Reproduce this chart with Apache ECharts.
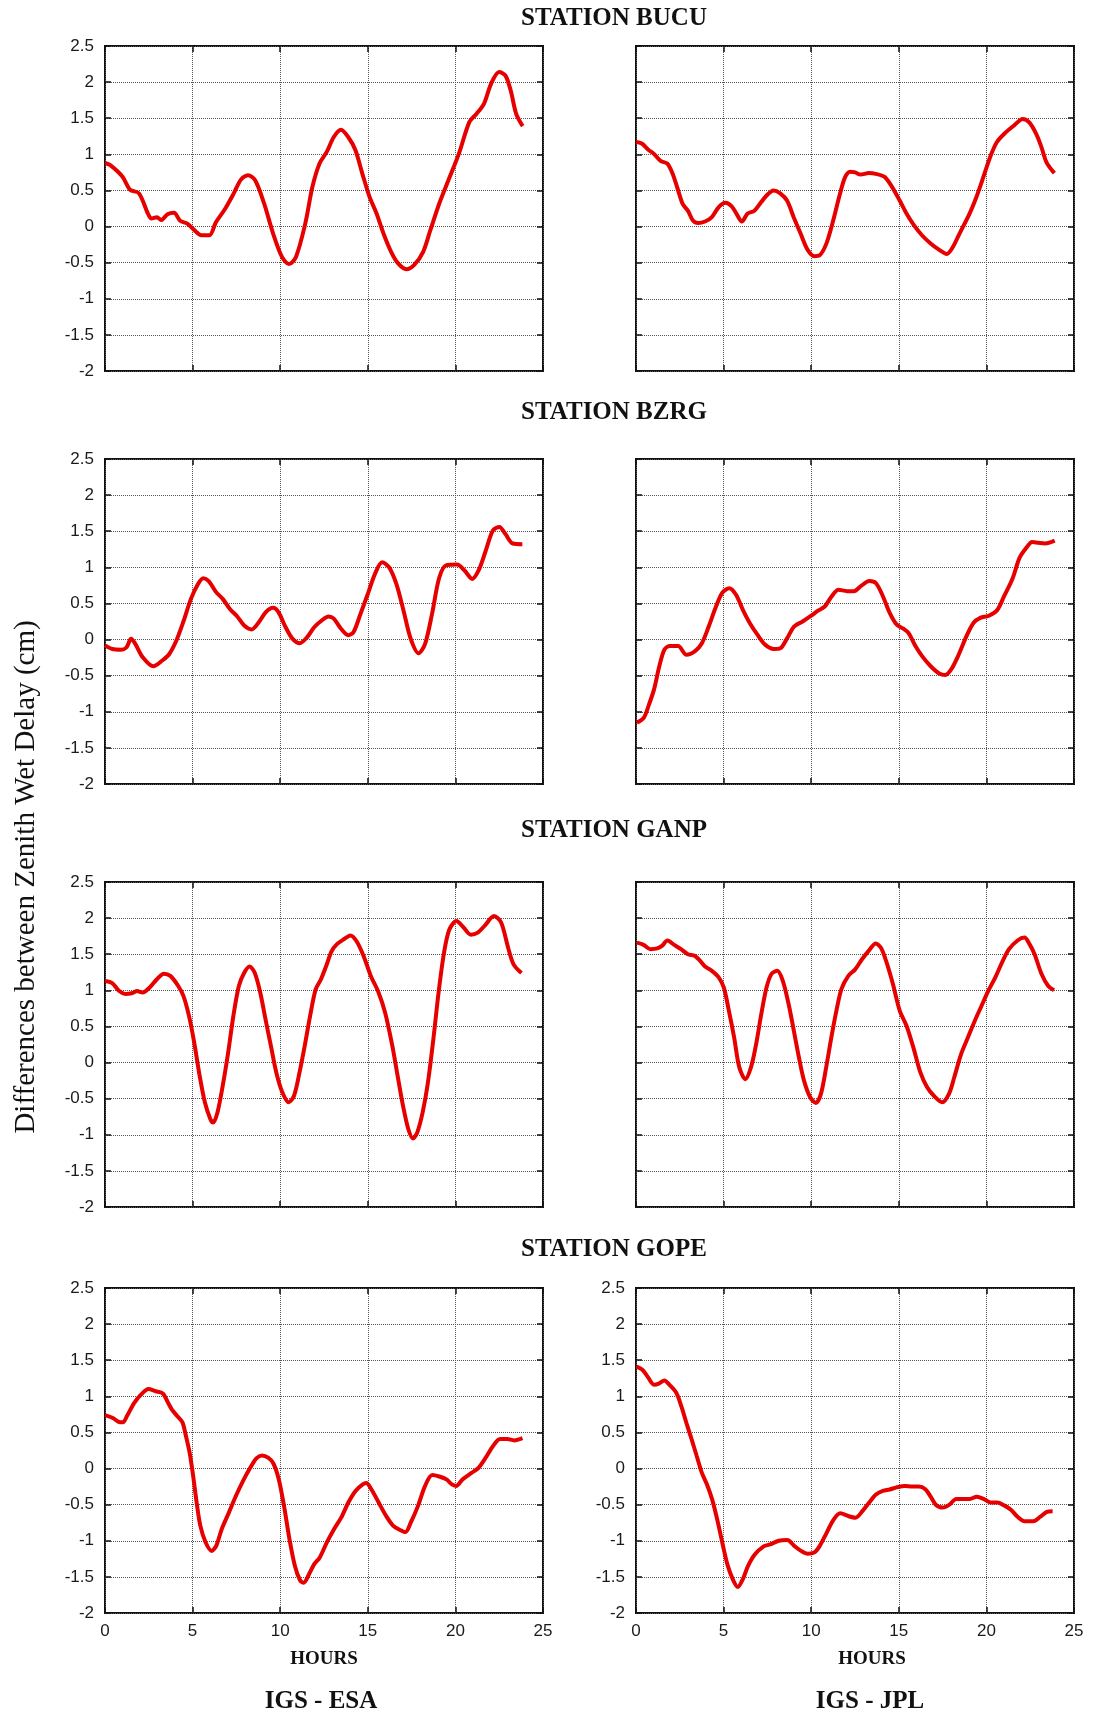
<!DOCTYPE html>
<html>
<head>
<meta charset="utf-8">
<title>Differences between Zenith Wet Delay</title>
<script src="https://cdn.jsdelivr.net/npm/echarts@6/dist/echarts.min.js"></script>
<style>
  html, body { margin: 0; padding: 0; background: #fff; }
  #main { width: 1095px; height: 1716px; }
</style>
</head>
<body>
<div id="main"></div>
<script>
// station rows, solution columns
const stations = ['BUCU', 'BZRG', 'GANP', 'GOPE'];
const solutions = ['IGS - ESA', 'IGS - JPL'];
const yAxisName = 'Differences between Zenith Wet Delay (cm)';
const xAxisName = 'HOURS';

// BUCU
const bucuEsaHours = [0,0.3,1.0,1.43,1.94,2.45,2.65,2.96,3.2,3.57,3.94,4.29,4.7,5.1,5.5,5.96,6.33,6.84,7.35,7.76,8.16,8.57,9.08,9.6,10.1,10.5,10.9,11.43,11.84,12.24,12.65,13.06,13.47,13.88,14.29,14.69,15.1,15.5,15.9,16.33,16.73,17.2,17.65,18.16,18.57,19.08,19.6,20.2,20.8,21.2,21.63,22.04,22.5,22.86,23.16,23.47,23.84];
const bucuEsaZwd = [0.88,0.85,0.69,0.51,0.46,0.18,0.11,0.13,0.09,0.17,0.19,0.08,0.04,-0.05,-0.12,-0.12,0.06,0.24,0.46,0.65,0.71,0.64,0.32,-0.1,-0.42,-0.52,-0.42,0.04,0.55,0.87,1.03,1.24,1.34,1.24,1.06,0.73,0.41,0.18,-0.1,-0.35,-0.51,-0.59,-0.53,-0.35,-0.05,0.32,0.64,1.01,1.45,1.56,1.70,1.98,2.14,2.09,1.88,1.56,1.39];
const bucuJplHours = [0,0.33,0.72,1.01,1.4,1.79,2.09,2.38,2.67,2.96,3.26,3.55,3.94,4.33,4.72,5.11,5.46,5.73,6.04,6.37,6.76,7.15,7.54,7.84,8.23,8.62,9.0,9.4,9.79,10.18,10.47,10.86,11.25,11.64,11.93,12.22,12.51,12.81,13.29,13.68,14.17,14.56,15.05,15.44,15.83,16.32,16.8,17.29,17.74,18.07,18.46,19.04,19.43,19.82,20.21,20.6,21.09,21.58,22.07,22.46,22.85,23.14,23.43,23.88];
const bucuJplZwd = [1.17,1.15,1.06,1.01,0.91,0.87,0.73,0.52,0.31,0.22,0.08,0.05,0.07,0.13,0.27,0.33,0.28,0.18,0.07,0.18,0.22,0.34,0.45,0.50,0.46,0.36,0.13,-0.1,-0.32,-0.41,-0.4,-0.24,0.08,0.45,0.68,0.76,0.75,0.72,0.74,0.73,0.69,0.57,0.36,0.18,0.03,-0.12,-0.23,-0.32,-0.38,-0.29,-0.1,0.18,0.41,0.68,0.96,1.17,1.3,1.4,1.49,1.44,1.28,1.10,0.89,0.74];

// BZRG
const bzrgEsaHours = [0,0.41,0.92,1.22,1.49,1.73,2.14,2.76,3.27,3.67,4.08,4.49,4.9,5.31,5.61,5.92,6.33,6.73,7.14,7.55,7.96,8.37,8.78,9.18,9.59,9.9,10.31,10.71,11.12,11.53,11.94,12.35,12.76,13.06,13.47,13.88,14.18,14.59,15.0,15.41,15.82,16.22,16.63,17.04,17.45,17.9,18.27,18.67,19.08,19.49,20.1,20.51,20.96,21.33,21.73,22.14,22.51,22.86,23.27,23.82];
const bzrgEsaZwd = [-0.08,-0.13,-0.14,-0.11,0.01,-0.06,-0.24,-0.37,-0.29,-0.2,-0.01,0.26,0.56,0.77,0.85,0.81,0.66,0.56,0.42,0.32,0.19,0.14,0.24,0.38,0.44,0.38,0.17,0.01,-0.05,0.03,0.17,0.26,0.32,0.29,0.15,0.06,0.1,0.36,0.63,0.91,1.07,1.0,0.77,0.4,0.01,-0.19,-0.06,0.36,0.86,1.03,1.04,0.96,0.84,0.96,1.23,1.51,1.56,1.46,1.33,1.32];
const bzrgJplHours = [0.05,0.45,0.74,1.03,1.33,1.62,1.91,2.4,2.88,3.37,3.76,4.15,4.54,4.93,5.32,5.71,6.1,6.49,6.98,7.37,7.85,8.24,8.63,9.02,9.51,10.0,10.39,10.78,11.17,11.56,12.05,12.44,12.83,13.31,13.7,14.09,14.48,14.87,15.26,15.56,15.95,16.33,16.82,17.31,17.66,18.0,18.38,18.87,19.26,19.65,20.14,20.62,21.01,21.5,21.89,22.28,22.61,22.96,23.35,23.9];
const bzrgJplZwd = [-1.15,-1.08,-0.9,-0.69,-0.37,-0.14,-0.09,-0.09,-0.21,-0.16,-0.05,0.18,0.44,0.65,0.71,0.62,0.41,0.23,0.05,-0.07,-0.13,-0.12,0.02,0.18,0.25,0.33,0.4,0.46,0.6,0.69,0.67,0.67,0.74,0.81,0.78,0.6,0.37,0.21,0.15,0.09,-0.09,-0.23,-0.37,-0.47,-0.49,-0.41,-0.23,0.05,0.23,0.3,0.33,0.41,0.6,0.85,1.13,1.27,1.35,1.34,1.33,1.37];

// GANP
const ganpEsaHours = [0,0.41,0.81,1.16,1.53,1.83,2.14,2.55,2.95,3.36,3.73,4.18,4.48,4.79,5.09,5.4,5.7,6.01,6.17,6.42,6.72,7.03,7.33,7.64,7.94,8.25,8.55,8.86,9.16,9.47,9.78,10.12,10.49,10.79,11.1,11.4,11.71,12.02,12.32,12.63,12.93,13.24,13.65,14.01,14.36,14.77,15.17,15.58,15.99,16.4,16.7,17.01,17.31,17.58,17.82,18.13,18.43,18.74,19.04,19.35,19.65,20.06,20.47,20.88,21.28,21.69,22.2,22.61,23.01,23.32,23.77];
const ganpEsaZwd = [1.13,1.1,0.99,0.95,0.96,0.99,0.97,1.04,1.15,1.23,1.2,1.06,0.92,0.65,0.28,-0.18,-0.55,-0.78,-0.83,-0.69,-0.32,0.14,0.65,1.06,1.24,1.33,1.24,0.97,0.6,0.23,-0.14,-0.41,-0.55,-0.46,-0.14,0.23,0.65,1.01,1.15,1.34,1.54,1.64,1.71,1.76,1.68,1.47,1.2,0.99,0.69,0.23,-0.18,-0.6,-0.92,-1.05,-0.97,-0.69,-0.28,0.32,0.97,1.52,1.84,1.96,1.87,1.77,1.8,1.9,2.03,1.94,1.59,1.36,1.24];
const ganpJplHours = [0.05,0.43,0.82,1.21,1.5,1.79,2.18,2.57,2.96,3.35,3.65,3.94,4.33,4.72,5.01,5.3,5.6,5.89,6.24,6.57,6.86,7.15,7.45,7.74,8.07,8.38,8.71,9.01,9.3,9.59,9.94,10.27,10.56,10.86,11.15,11.44,11.73,12.12,12.51,12.9,13.29,13.68,13.98,14.27,14.66,15.05,15.44,15.83,16.22,16.61,17.0,17.48,17.87,18.17,18.56,18.95,19.34,19.73,20.12,20.51,20.9,21.29,21.78,22.17,22.46,22.75,23.14,23.53,23.86];
const ganpJplZwd = [1.66,1.63,1.57,1.58,1.62,1.69,1.63,1.57,1.5,1.48,1.41,1.33,1.27,1.18,1.04,0.72,0.35,-0.06,-0.23,-0.06,0.26,0.67,1.04,1.23,1.27,1.13,0.81,0.44,0.07,-0.25,-0.48,-0.56,-0.43,-0.06,0.35,0.72,1.02,1.2,1.29,1.43,1.55,1.65,1.59,1.41,1.09,0.72,0.51,0.21,-0.13,-0.34,-0.46,-0.55,-0.43,-0.2,0.12,0.35,0.58,0.79,1.0,1.18,1.39,1.57,1.69,1.73,1.64,1.5,1.23,1.06,1.0];

// GOPE
const gopeEsaHours = [0,0.45,0.75,1.02,1.26,1.67,2.08,2.48,2.89,3.3,3.6,3.81,4.11,4.42,4.62,4.83,5.03,5.23,5.44,5.74,6.09,6.35,6.66,7.07,7.47,7.88,8.29,8.64,8.96,9.31,9.61,9.92,10.22,10.53,10.84,11.14,11.34,11.65,11.95,12.26,12.67,13.07,13.48,13.89,14.3,14.71,14.91,15.21,15.62,16.03,16.44,16.84,17.15,17.45,17.86,18.27,18.68,19.08,19.49,19.8,20.04,20.41,20.92,21.32,21.73,22.14,22.55,22.95,23.36,23.83];
const gopeEsaZwd = [0.74,0.7,0.65,0.64,0.73,0.91,1.03,1.1,1.07,1.04,0.91,0.82,0.73,0.64,0.45,0.22,-0.1,-0.47,-0.79,-1.02,-1.14,-1.07,-0.84,-0.61,-0.38,-0.17,0.01,0.14,0.18,0.15,0.07,-0.15,-0.52,-0.98,-1.35,-1.55,-1.58,-1.46,-1.32,-1.23,-1.02,-0.84,-0.68,-0.47,-0.31,-0.22,-0.2,-0.29,-0.47,-0.65,-0.79,-0.85,-0.88,-0.75,-0.52,-0.24,-0.09,-0.11,-0.15,-0.22,-0.24,-0.15,-0.06,0.01,0.15,0.31,0.41,0.41,0.39,0.42];
const gopeJplHours = [0.03,0.35,0.64,1.03,1.33,1.62,1.91,2.3,2.59,2.88,3.18,3.47,3.76,4.05,4.35,4.64,4.93,5.22,5.52,5.81,6.1,6.39,6.78,7.27,7.66,8.15,8.64,9.03,9.42,9.8,10.19,10.49,10.88,11.27,11.66,12.14,12.53,12.92,13.31,13.7,14.09,14.48,14.87,15.36,15.75,16.14,16.53,16.82,17.11,17.5,17.89,18.28,18.67,19.06,19.45,19.84,20.23,20.62,21.01,21.4,21.79,22.18,22.67,23.06,23.45,23.78];
const gopeJplZwd = [1.41,1.37,1.28,1.16,1.18,1.22,1.16,1.05,0.86,0.63,0.4,0.17,-0.06,-0.22,-0.43,-0.71,-1.03,-1.33,-1.53,-1.64,-1.53,-1.35,-1.19,-1.08,-1.05,-1.0,-0.99,-1.07,-1.14,-1.18,-1.16,-1.07,-0.89,-0.71,-0.62,-0.66,-0.68,-0.59,-0.47,-0.36,-0.31,-0.29,-0.26,-0.24,-0.25,-0.25,-0.29,-0.39,-0.5,-0.54,-0.5,-0.42,-0.42,-0.42,-0.39,-0.42,-0.47,-0.47,-0.51,-0.57,-0.67,-0.73,-0.73,-0.67,-0.6,-0.59];

const curves = [
  [bucuEsaHours, bucuEsaZwd], [bucuJplHours, bucuJplZwd],
  [bzrgEsaHours, bzrgEsaZwd], [bzrgJplHours, bzrgJplZwd],
  [ganpEsaHours, ganpEsaZwd], [ganpJplHours, ganpJplZwd],
  [gopeEsaHours, gopeEsaZwd], [gopeJplHours, gopeJplZwd]
];

// layout (px)
const colLeft = [105, 636];
const rowTop = [46, 459, 882, 1288];
const plotW = 438, plotH = 325;
const titleY = [19, 413, 831, 1250];
const titleX = 614;

const sans = '"Liberation Sans", Arial, sans-serif';
const serif = '"Liberation Serif", "Times New Roman", serif';
const tickFont = { fontFamily: sans, fontSize: 17, color: '#1a1a1a' };
const gridLine = { type: 'dotted', color: '#555', width: 1 };
const tickLine = { color: '#111', width: 1.5 };
const noLine = { show: false, onZero: false };

var grids = [], xAxes = [], yAxes = [], series = [];

curves.forEach((c, i) => {
  var row = Math.floor(i / 2), col = i % 2;
  grids.push({
    left: colLeft[col], top: rowTop[row], width: plotW, height: plotH,
    show: true, borderColor: '#111', borderWidth: 2
  });
  // main axes
  xAxes.push({
    gridIndex: i, type: 'value', min: 0, max: 25, interval: 5, position: 'bottom',
    axisLine: noLine,
    axisTick: { show: true, inside: true, length: 6, lineStyle: tickLine },
    axisLabel: Object.assign({ show: row === 3, margin: 10 }, tickFont),
    splitLine: { show: true, lineStyle: gridLine }
  });
  yAxes.push({
    gridIndex: i, type: 'value', min: -2, max: 2.5, interval: 0.5, position: 'left',
    axisLine: noLine,
    axisTick: { show: true, inside: true, length: 6, lineStyle: tickLine },
    axisLabel: Object.assign({ show: col === 0 || row === 3, margin: 11 }, tickFont),
    splitLine: { show: true, lineStyle: gridLine }
  });
  series.push({
    type: 'line',
    xAxisIndex: i, yAxisIndex: i,
    data: c[0].map((h, k) => [h, c[1][k]]),
    smooth: 0.3,
    showSymbol: false,
    lineStyle: { color: '#e60000', width: 4 },
    z: 5
  });
});

// mirrored ticks on top / right edges
curves.forEach((c, i) => {
  xAxes.push({
    gridIndex: i, type: 'value', min: 0, max: 25, interval: 5, position: 'top',
    axisLine: noLine, axisLabel: { show: false }, splitLine: { show: false },
    axisTick: { show: true, inside: true, length: 6, lineStyle: tickLine }
  });
  yAxes.push({
    gridIndex: i, type: 'value', min: -2, max: 2.5, interval: 0.5, position: 'right',
    axisLine: noLine, axisLabel: { show: false }, splitLine: { show: false },
    axisTick: { show: true, inside: true, length: 6, lineStyle: tickLine }
  });
});

var texts = [];
stations.forEach((s, r) => {
  texts.push({
    type: 'text', x: titleX, y: titleY[r],
    style: { text: 'STATION ' + s, font: 'bold 25px ' + serif, fill: '#111',
             textAlign: 'center', textVerticalAlign: 'middle' }
  });
});
const hoursX = [324, 872];
const solX = [321, 870];
solutions.forEach((s, k) => {
  texts.push({
    type: 'text', x: hoursX[k], y: 1659,
    style: { text: xAxisName, font: 'bold 19px ' + serif, fill: '#111',
             textAlign: 'center', textVerticalAlign: 'middle' }
  });
  texts.push({
    type: 'text', x: solX[k], y: 1702,
    style: { text: s, font: 'bold 25px ' + serif, fill: '#111',
             textAlign: 'center', textVerticalAlign: 'middle' }
  });
});
texts.push({
  type: 'text', x: 26, y: 877, rotation: Math.PI / 2,
  style: { text: yAxisName, font: '29px ' + serif, fill: '#111',
           textAlign: 'center', textVerticalAlign: 'middle' }
});

var chart = echarts.init(document.getElementById('main'), null, { renderer: 'canvas' });
chart.setOption({
  animation: false,
  backgroundColor: '#fff',
  grid: grids,
  xAxis: xAxes,
  yAxis: yAxes,
  series: series,
  graphic: texts
});
</script>
</body>
</html>
